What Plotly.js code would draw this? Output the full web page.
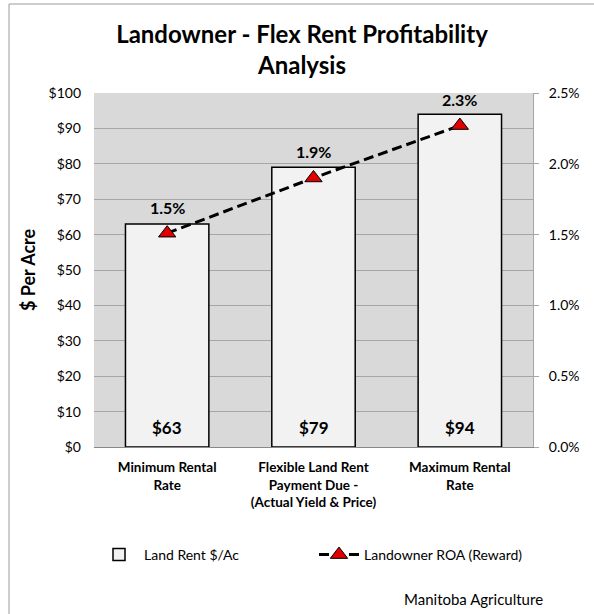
<!DOCTYPE html>
<html><head><meta charset="utf-8">
<script src="https://cdn.plot.ly/plotly-3.0.1.min.js"></script>
<style>body{margin:0;padding:0;background:#fff}#chart{width:594px;height:614px}</style>
</head><body><div id="chart"></div>
<script>
const categories = ["Minimum Rental<br>Rate", "Flexible Land Rent<br>Payment Due -<br>(Actual Yield & Price)", "Maximum Rental<br>Rate"];
const rentValues = [63, 79, 94];
const roaValues = [0.0151, 0.0190, 0.0227];
const rentTicks = [0,10,20,30,40,50,60,70,80,90,100];
const roaTicks = [0, 0.005, 0.010, 0.015, 0.020, 0.025];

const FONT = "Lato, 'Open Sans', sans-serif";
const data = [
  {
    type: 'bar', x: categories, y: rentValues, name: 'Land Rent $/Ac',
    marker: {color: '#f2f2f2', line: {color: '#000', width: 1.5}},
    width: 0.57, hoverinfo: 'none'
  },
  {
    type: 'scatter', mode: 'lines+markers', x: categories, y: roaValues, yaxis: 'y2',
    name: 'Landowner ROA (Reward)',
    line: {color: '#000', width: 3, dash: '10px,5px'},
    marker: {symbol: 'triangle-up', size: 15, color: '#e00000', line: {color: '#000', width: 1}},
    hoverinfo: 'none'
  }
];
const annotations = [];
categories.forEach((c, i) => {
  annotations.push({x: c, y: 0, xref: 'x', yref: 'y', text: '<b>$' + rentValues[i] + '</b>', showarrow: false,
    yanchor: 'middle', yshift: 20, font: {size: 17, family: FONT, color: '#000'}});
  annotations.push({x: c, y: roaValues[i], xref: 'x', yref: 'y2', text: '<b>' + (roaValues[i]*100).toFixed(1) + '%</b>', showarrow: false,
    yanchor: 'middle', yshift: 26, font: {size: 16, family: FONT, color: '#000'}});
});
annotations.push({text: 'Manitoba Agriculture', xref: 'paper', yref: 'paper', x: (545-94)/439, y: (447-599)/354,
  xanchor: 'right', yanchor: 'middle', showarrow: false, font: {size: 15, family: FONT, color: '#000'}});

const layout = {
  width: 594, height: 614,
  margin: {l: 94, r: 61, t: 93, b: 167},
  paper_bgcolor: '#fff', plot_bgcolor: '#d9d9d9',
  font: {family: FONT, color: '#000', size: 13},
  title: {text: '<b>Landowner - Flex Rent Profitability<br>Analysis</b>', font: {size: 24, family: FONT, color: '#000'},
    x: 302/594, xanchor: 'center', xref: 'container', yref: 'container', y: 1 - 43/614, yanchor: 'middle'},
  showlegend: true,
  legend: {orientation: 'h', x: 0, y: (447-555)/354, xanchor: 'left', yanchor: 'middle', font: {size: 14, family: FONT},
    entrywidth: 165, entrywidthmode: 'pixels', itemwidth: 40, bgcolor: 'rgba(0,0,0,0)', traceorder: 'normal'},
  xaxis: {
    type: 'category', tickfont: {size: 13.5, family: FONT}, showgrid: false, zeroline: false,
    showline: true, linecolor: '#888', linewidth: 1, ticks: '', tickprefix: '<b>', ticksuffix: '</b>',
    ticklabelstandoff: 8
  },
  yaxis: {
    range: [0, 100], tickvals: rentTicks, ticktext: rentTicks.map(v => '$' + v),
    gridcolor: '#a6a6a6', gridwidth: 1, zeroline: false, showline: false, ticks: '',
    tickfont: {size: 14, family: FONT}, ticklabelstandoff: 12,
    title: {text: '<b>$ Per Acre</b>', font: {size: 18, family: FONT}, standoff: 8}
  },
  yaxis2: {
    range: [0, 0.025], overlaying: 'y', side: 'right', tickvals: roaTicks,
    ticktext: roaTicks.map(v => (v*100).toFixed(1) + '%'),
    showgrid: false, zeroline: false, showline: true, linecolor: '#a6a6a6', linewidth: 1,
    ticks: 'outside', ticklen: 5, tickcolor: '#a6a6a6', tickfont: {size: 14, family: FONT}, ticklabelstandoff: 7
  },
  annotations: annotations,
  shapes: [
    {type: 'rect', xref: 'paper', yref: 'paper', x0: (9-94)/439, x1: (600-94)/439, y0: (447-620)/354, y1: (447-4)/354,
     line: {color: '#9a9a9a', width: 1}, fillcolor: 'rgba(0,0,0,0)', layer: 'below'}
  ]
};
Plotly.newPlot('chart', data, layout, {displayModeBar: false, staticPlot: true});
</script>
</body></html>
